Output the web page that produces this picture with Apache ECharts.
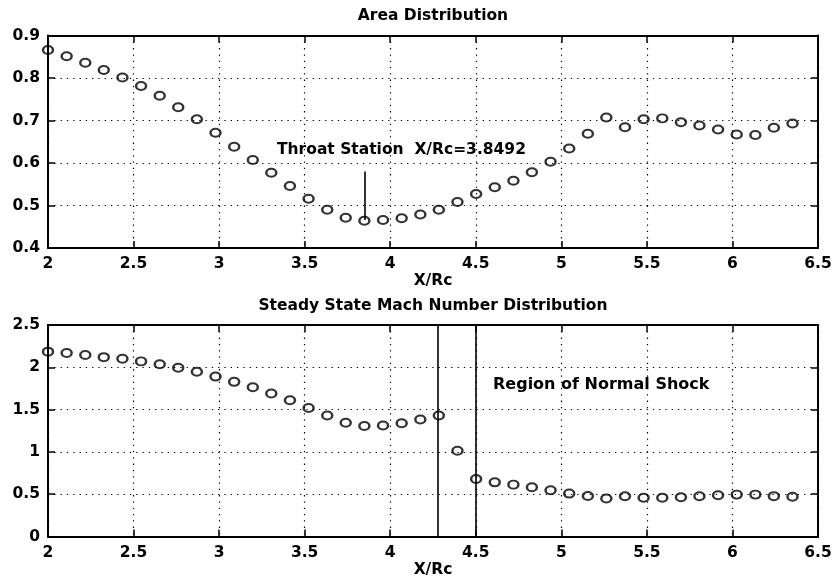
<!DOCTYPE html>
<html>
<head>
<meta charset="utf-8">
<script src="https://cdn.jsdelivr.net/npm/echarts@6/dist/echarts.min.js"></script>
<style>
  html, body { margin: 0; padding: 0; background: #fff; }
  #chart { width: 837px; height: 580px; }
</style>
</head>
<body>
<div id="chart"></div>
<script>
// Axial stations X/Rc shared by both distributions
const stations = [
  2.000, 2.109, 2.218, 2.326, 2.435, 2.544, 2.653, 2.761, 2.870, 2.979,
  3.088, 3.197, 3.305, 3.414, 3.523, 3.632, 3.740, 3.849, 3.958, 4.067,
  4.176, 4.284, 4.393, 4.502, 4.611, 4.720, 4.828, 4.937, 5.046, 5.155,
  5.263, 5.372, 5.481, 5.590, 5.699, 5.807, 5.916, 6.025, 6.134, 6.242,
  6.351
];

// Nozzle area at each station
const areaValues = [
  0.866, 0.851, 0.836, 0.819, 0.801, 0.781, 0.758, 0.731, 0.703, 0.671,
  0.638, 0.607, 0.577, 0.546, 0.516, 0.490, 0.471, 0.464, 0.466, 0.470,
  0.479, 0.490, 0.508, 0.527, 0.543, 0.558, 0.578, 0.603, 0.634, 0.669,
  0.707, 0.684, 0.703, 0.705, 0.696, 0.688, 0.679, 0.667, 0.666, 0.683,
  0.693
];

// Steady-state Mach number at each station
const machValues = [
  2.185, 2.170, 2.145, 2.120, 2.100, 2.070, 2.035, 1.995, 1.948, 1.890,
  1.828, 1.765, 1.690, 1.610, 1.520, 1.430, 1.345, 1.305, 1.312, 1.338,
  1.382, 1.430, 1.014, 0.680, 0.640, 0.613, 0.581, 0.546, 0.507, 0.478,
  0.450, 0.475, 0.458, 0.458, 0.464, 0.475, 0.487, 0.495, 0.495, 0.477,
  0.470
];

const throatStation = 3.8492;
const throatPointer = [0.58, 0.466];
const shockBounds = [4.284, 4.502];

const xTicks = { min: 2, max: 6.5, interval: 0.5 };
const areaTicks = { min: 0.4, max: 0.9, interval: 0.1 };
const machTicks = { min: 0, max: 2.5, interval: 0.5 };

const FONT = 'DejaVu Sans';
const INK = '#000';

const dotted = { show: true, lineStyle: { color: INK, width: 1.2, type: [1.3, 5] } };
const tick = { show: true, inside: true, length: 7, lineStyle: { color: INK, width: 1.5 } };
const line = { show: true, onZero: false, lineStyle: { color: INK, width: 2 } };
const tickLabel = { color: INK, fontFamily: FONT, fontWeight: 'bold', fontSize: 15.5 };

function xAxisPair(gridIndex) {
  return [
    {
      type: 'value', gridIndex, position: 'bottom', ...xTicks,
      name: 'X/Rc', nameLocation: 'middle', nameGap: 25,
      nameTextStyle: { ...tickLabel, fontSize: 15.5 },
      axisLine: line, axisTick: tick, splitLine: dotted,
      axisLabel: { ...tickLabel, margin: 8 }
    },
    {
      type: 'value', gridIndex, position: 'top', ...xTicks,
      axisLine: line, axisTick: tick, splitLine: { show: false },
      axisLabel: { show: false }
    }
  ];
}

function yAxisPair(gridIndex, range) {
  return [
    {
      type: 'value', gridIndex, position: 'left', ...range,
      axisLine: line, axisTick: tick, splitLine: dotted,
      axisLabel: { ...tickLabel, margin: 8 }
    },
    {
      type: 'value', gridIndex, position: 'right', ...range,
      axisLine: line, axisTick: tick, splitLine: { show: false },
      axisLabel: { show: false }
    }
  ];
}

const marker = {
  symbol: 'circle',
  symbolSize: [10, 8],
  itemStyle: { color: 'rgba(0,0,0,0)', borderColor: INK, borderWidth: 2.2 }
};

const pairs = (ys) => stations.map((x, i) => [x, ys[i]]);

const option = {
  animation: false,
  backgroundColor: '#fff',
  grid: [
    { left: 48, right: 19, top: 35.5, height: 212.5 },
    { left: 48, right: 19, top: 325, height: 211.5 }
  ],
  xAxis: [...xAxisPair(0), ...xAxisPair(1)],
  yAxis: [...yAxisPair(0, areaTicks), ...yAxisPair(1, machTicks)],
  series: [
    {
      name: 'Area', type: 'scatter', xAxisIndex: 0, yAxisIndex: 0,
      data: pairs(areaValues), ...marker, z: 3,
      markLine: {
        silent: true, symbol: 'none', animation: false,
        lineStyle: { color: INK, width: 1.6, type: 'solid' },
        label: { show: false },
        data: [[
          { coord: [throatStation, throatPointer[0]] },
          { coord: [throatStation, throatPointer[1]] }
        ]]
      }
    },
    {
      name: 'Mach', type: 'scatter', xAxisIndex: 2, yAxisIndex: 2,
      data: pairs(machValues), ...marker, z: 3,
      markLine: {
        silent: true, symbol: 'none', animation: false,
        lineStyle: { color: INK, width: 1.6, type: 'solid' },
        label: { show: false },
        data: shockBounds.map(x => ({ xAxis: x }))
      }
    }
  ],
  graphic: [
    {
      type: 'text', x: 433, y: 16,
      style: { text: 'Area Distribution', fill: INK, align: 'center', verticalAlign: 'middle',
               font: `bold 15.5px "${FONT}"` }
    },
    {
      type: 'text', x: 433, y: 306,
      style: { text: 'Steady State Mach Number Distribution', fill: INK, align: 'center', verticalAlign: 'middle',
               font: `bold 15.5px "${FONT}"` }
    },
    {
      type: 'text', x: 277, y: 150,
      style: { text: 'Throat Station  X/Rc=3.8492', fill: INK, align: 'left', verticalAlign: 'middle',
               font: `bold 15.5px "${FONT}"` }
    },
    {
      type: 'text', x: 493, y: 385,
      style: { text: 'Region of Normal Shock', fill: INK, align: 'left', verticalAlign: 'middle',
               font: `bold 16px "${FONT}"` }
    }
  ]
};

const chart = echarts.init(document.getElementById('chart'), null, { renderer: 'canvas' });
chart.setOption(option);
</script>
</body>
</html>
